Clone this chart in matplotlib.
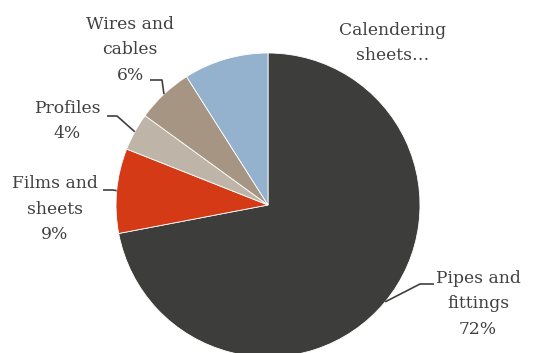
import matplotlib
matplotlib.use("Agg")
import matplotlib.pyplot as plt
import numpy as np

categories = ["Pipes and\nfittings", "Films and\nsheets", "Profiles", "Wires and\ncables", "Calendering\nsheets…"]
values = [72, 9, 4, 6, 9]
colors = ["#3D3D3B", "#D53A16", "#BEB5A8", "#A69582", "#94B1CD"]

W, H = 533, 353
fig = plt.figure(figsize=(W / 100, H / 100), dpi=100)
ax = fig.add_axes([0, 0, 1, 1])

cx, cy, R = 268, H - 205, 152
wedges, _ = ax.pie(values, startangle=90, counterclock=False, colors=colors,
                   center=(cx, cy), radius=R,
                   wedgeprops=dict(edgecolor="white", linewidth=0.6))
ax.set_xlim(0, W)
ax.set_ylim(0, H)
ax.set_aspect("equal")
ax.axis("off")

font = dict(family=["DejaVu Serif"], fontsize=12.3, color="#404040", linespacing=1.62)

# label text centre (image px), leader elbow (image px) or None
layout = [
    ((478, 304), [(434, 284), (420, 284)], "{}\n{}%"),
    ((55, 209), [(103, 190), (113, 190)], "{}\n{}%"),
    ((67, 121), [(107, 116), (117, 116)], "{}\n{}%"),
    ((130, 50), [(150, 80), (162, 80)], "{}\n{}%"),
    ((393, 43), None, "{}"),
]

for w, cat, val, (pos, leader, fmt) in zip(wedges, categories, values, layout):
    txt = fmt.format(cat, val) if "%" in fmt else cat
    ax.text(pos[0], H - pos[1], txt, ha="center", va="center", **font)
    if leader:
        mid = np.deg2rad((w.theta1 + w.theta2) / 2)
        ex, ey = cx + R * np.cos(mid), cy + R * np.sin(mid)
        xs = [p[0] for p in leader] + [ex]
        ys = [H - p[1] for p in leader] + [ey]
        ax.plot(xs, ys, color="#404040", lw=1.2, solid_capstyle="butt")

fig.savefig("out.png", dpi=100)
